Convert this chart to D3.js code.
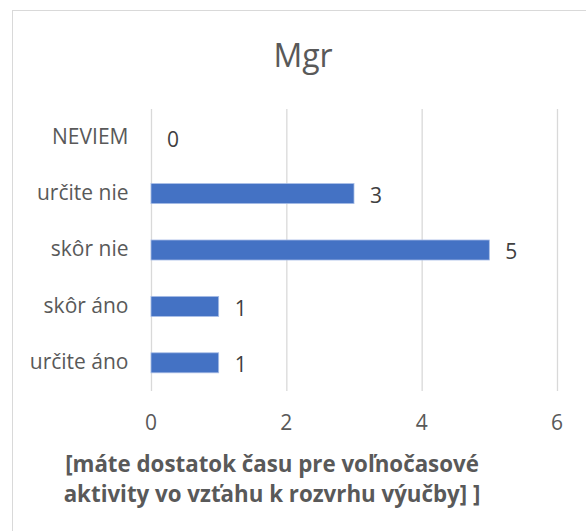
<!DOCTYPE html>
<html><head><meta charset="utf-8">
<script src="https://cdn.jsdelivr.net/npm/d3@7"></script>
<style>body{margin:0;background:#fff}svg{display:block}</style>
</head><body>
<script>
const categories = ["NEVIEM", "určite nie", "skôr nie", "skôr áno", "určite áno"];
const values = [0, 3, 5, 1, 1];
const ticks = [0, 2, 4, 6];
const title = "Mgr";
const axisTitle = ["[máte dostatok času pre voľnočasové", "aktivity vo vzťahu k rozvrhu výučby] ]"];

const W = 586, H = 531;
const font = "'Open Sans', sans-serif";
const svg = d3.select("body").append("svg").attr("width", W).attr("height", H);

svg.append("rect").attr("x", 12.5).attr("y", 10.5).attr("width", 600).attr("height", 600)
  .attr("fill", "#fff").attr("stroke", "#d9d9d9").attr("stroke-width", 1);

const x = d3.scaleLinear().domain([0, 6]).range([151, 557]);
const y = d3.scaleBand().domain(categories).range([109, 391]).paddingInner(0.645).paddingOuter(0.3225);

svg.append("text").attr("x", 303).attr("y", 67).attr("text-anchor", "middle")
  .attr("font-family", font).attr("font-size", 32).attr("fill", "#595959").text(title);

const g = svg.append("g");
g.selectAll("line.grid").data(ticks).join("line").attr("class", "grid")
  .attr("x1", d => x(d) + 0.5).attr("x2", d => x(d) + 0.5).attr("y1", 109).attr("y2", 391)
  .attr("stroke", "#d9d9d9").attr("stroke-width", 1.3);

g.selectAll("rect.bar").data(values).join("rect").attr("class", "bar")
  .attr("x", x(0)).attr("y", (d, i) => y(categories[i]))
  .attr("width", d => x(d) - x(0)).attr("height", y.bandwidth())
  .attr("fill", "#4472c4").attr("stroke", "#a8bde6").attr("stroke-width", 0.8)
  .attr("visibility", d => d > 0 ? "visible" : "hidden");

g.selectAll("text.val").data(values).join("text").attr("class", "val")
  .attr("x", d => x(d) + 16).attr("y", (d, i) => y(categories[i]) + y.bandwidth() / 2)
  .attr("dy", "0.45em").attr("font-family", font).attr("font-size", 21).attr("fill", "#404040")
  .text(d => d);

g.selectAll("text.cat").data(categories).join("text").attr("class", "cat")
  .attr("x", 128.5).attr("y", d => y(d) + y.bandwidth() / 2).attr("dy", "0.3em")
  .attr("text-anchor", "end").attr("font-family", font).attr("font-size", 21).attr("fill", "#595959")
  .text(d => d);

g.selectAll("text.tick").data(ticks).join("text").attr("class", "tick")
  .attr("x", d => x(d)).attr("y", 430).attr("text-anchor", "middle")
  .attr("font-family", font).attr("font-size", 21).attr("fill", "#595959").text(d => d);

svg.selectAll("text.atitle").data(axisTitle).join("text").attr("class", "atitle")
  .attr("x", 272).attr("y", (d, i) => 472 + i * 30).attr("text-anchor", "middle")
  .attr("font-family", font).attr("font-weight", "bold").attr("font-size", 22.3).attr("fill", "#595959")
  .text(d => d);
</script>
</body></html>
